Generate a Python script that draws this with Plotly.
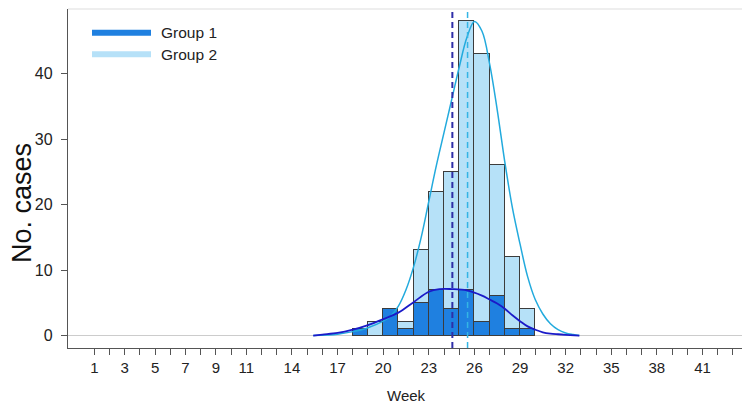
import plotly.graph_objects as go

# ---------------- data ----------------
weeks = list(range(18, 30))
group1_cases = [1, 0, 4, 1, 5, 7, 4, 7, 2, 6, 1, 1]
group2_cases = [0, 2, 0, 1, 8, 15, 21, 41, 41, 20, 11, 3]  # stacked on group 1

curve1_weeks = [15.4, 16, 17, 18, 19, 20, 21, 22, 23, 23.7, 24.5, 25.5, 26.5, 27, 27.5,
                28, 28.5, 29, 29.5, 30, 30.5, 31, 31.5, 32, 32.9]
curve1_values = [0, 0.15, 0.4, 0.9, 1.6, 2.5, 3.5, 5.1, 6.7, 7.1, 7.1, 6.9, 6.1, 5.5, 4.9,
                 4.1, 3.1, 2.2, 1.4, 0.9, 0.5, 0.3, 0.2, 0.12, 0]

curve2_weeks = [15.4, 17, 18, 19, 20, 20.5, 21, 21.5, 22, 22.5, 23, 23.5, 24, 24.5, 25,
                25.5, 26, 26.5, 27, 27.5, 28, 28.5, 29, 29.5, 30, 30.5, 31, 31.5, 32, 32.5, 32.9]
curve2_values = [0, 0.2, 0.6, 1.2, 2.2, 3, 4.5, 7, 10.5, 15, 20.5, 26, 31, 36, 41,
                 45.5, 48, 46.5, 41.5, 34.5, 26.5, 19.5, 14, 9, 5.5, 3.3, 1.8, 0.9, 0.4, 0.15, 0]

group_names = ["Group 1", "Group 2"]
mean_weeks = [24.55, 25.55]

week_tick_labels = [1, 3, 5, 7, 9, 11, 14, 17, 20, 23, 26, 29, 32, 35, 38, 41]
all_week_ticks = list(range(1, 44))
case_ticks = [0, 10, 20, 30, 40]

# ---------------- style ----------------
FONT = "Liberation Sans, Arial, sans-serif"
C_G1 = "#1f80e0"
C_G2 = "#b6e1f8"
C_CURVE1 = "#1a1ac8"
C_CURVE2 = "#22aadd"
C_MEAN1 = "#2e2ea8"
C_MEAN2 = "#33b5e5"
OUTLINE = "#3c3c3c"
AXIS = "#555555"

# the page body adds an 8px margin; lay out in screen pixels and compensate
OFF = 8
W, H = 750 - OFF, 417 - OFF
L, R, T, B = 68 - OFF, 742 - OFF, 9 - OFF, 348 - OFF


def px_x(p):
    return (p - OFF - L) / (R - L)


def px_y(p):
    return (B - (p - OFF)) / (B - T)


fig = go.Figure()

fig.add_trace(go.Bar(x=weeks, y=group1_cases, name=group_names[0], width=1, offset=0,
                     marker=dict(color=C_G1, line=dict(color=OUTLINE, width=1)),
                     showlegend=False))
fig.add_trace(go.Bar(x=weeks, y=group2_cases, name=group_names[1], width=1, offset=0,
                     marker=dict(color=C_G2, line=dict(color=OUTLINE, width=1)),
                     showlegend=False))

fig.add_trace(go.Scatter(x=curve2_weeks, y=curve2_values, mode="lines",
                         line=dict(color=C_CURVE2, width=1.5, shape="spline"),
                         showlegend=False, hoverinfo="skip"))
fig.add_trace(go.Scatter(x=curve1_weeks, y=curve1_values, mode="lines",
                         line=dict(color=C_CURVE1, width=1.8, shape="spline"),
                         showlegend=False, hoverinfo="skip"))

shapes = []
for m, c, w in zip(mean_weeks, [C_MEAN1, C_MEAN2], [2, 1.5]):
    shapes.append(dict(type="line", xref="x", yref="paper", x0=m, x1=m, y0=0, y1=1,
                       line=dict(color=c, width=w, dash="6px,4px")))
shapes.append(dict(type="line", xref="paper", yref="paper", x0=0, x1=1, y0=1, y1=1,
                   line=dict(color="#dddddd", width=1)))

annotations = []
for name, col, py in zip(group_names, [C_G1, C_G2], [32.7, 54.3]):
    shapes.append(dict(type="line", xref="paper", yref="paper",
                       x0=px_x(92), x1=px_x(151), y0=px_y(py), y1=px_y(py),
                       line=dict(color=col, width=6)))
    annotations.append(dict(xref="paper", yref="paper", x=px_x(159), y=px_y(py),
                            text=name, showarrow=False, xanchor="left", yanchor="middle",
                            font=dict(family=FONT, size=15.5, color="#222222")))

# axis titles
annotations.append(dict(xref="paper", yref="paper", x=px_x(406), y=px_y(395),
                        text="Week", showarrow=False, xanchor="center", yanchor="middle",
                        font=dict(family=FONT, size=15, color="#222222")))
annotations.append(dict(xref="paper", yref="paper", x=px_x(22), y=px_y(203),
                        text="No. cases", showarrow=False, xanchor="center", yanchor="middle",
                        textangle=-90, font=dict(family=FONT, size=27, color="#111111")))

fig.update_layout(
    width=W, height=H,
    margin=dict(l=L, r=W - R, t=T, b=H - B, autoexpand=False),
    paper_bgcolor="white", plot_bgcolor="white",
    barmode="stack", bargap=0,
    showlegend=False,
    shapes=shapes, annotations=annotations,
    font=dict(family=FONT, color="#222222"),
)

fig.update_xaxes(
    range=[-0.73, 43.6], automargin=False,
    tickmode="array", tickvals=week_tick_labels, ticktext=[str(v) for v in week_tick_labels],
    ticks="outside", ticklen=6, tickcolor=AXIS, tickwidth=1,
    minor=dict(tickmode="array", tickvals=all_week_ticks, ticks="outside", ticklen=6,
               tickcolor=AXIS, tickwidth=1, showgrid=False),
    showline=True, linecolor=AXIS, linewidth=1.3,
    showgrid=False, zeroline=False,
    tickfont=dict(family=FONT, size=15, color="#222222"),
)

fig.update_yaxes(
    range=[-1.9, 49.9], automargin=False,
    tickmode="array", tickvals=case_ticks,
    ticks="outside", ticklen=6, tickcolor=AXIS, tickwidth=1, ticklabelstandoff=5,
    showline=True, linecolor=AXIS, linewidth=1.3,
    showgrid=False, zeroline=True, zerolinecolor="#cccccc", zerolinewidth=1,
    tickfont=dict(family=FONT, size=16, color="#222222"),
)

fig.write_html("out.html")
